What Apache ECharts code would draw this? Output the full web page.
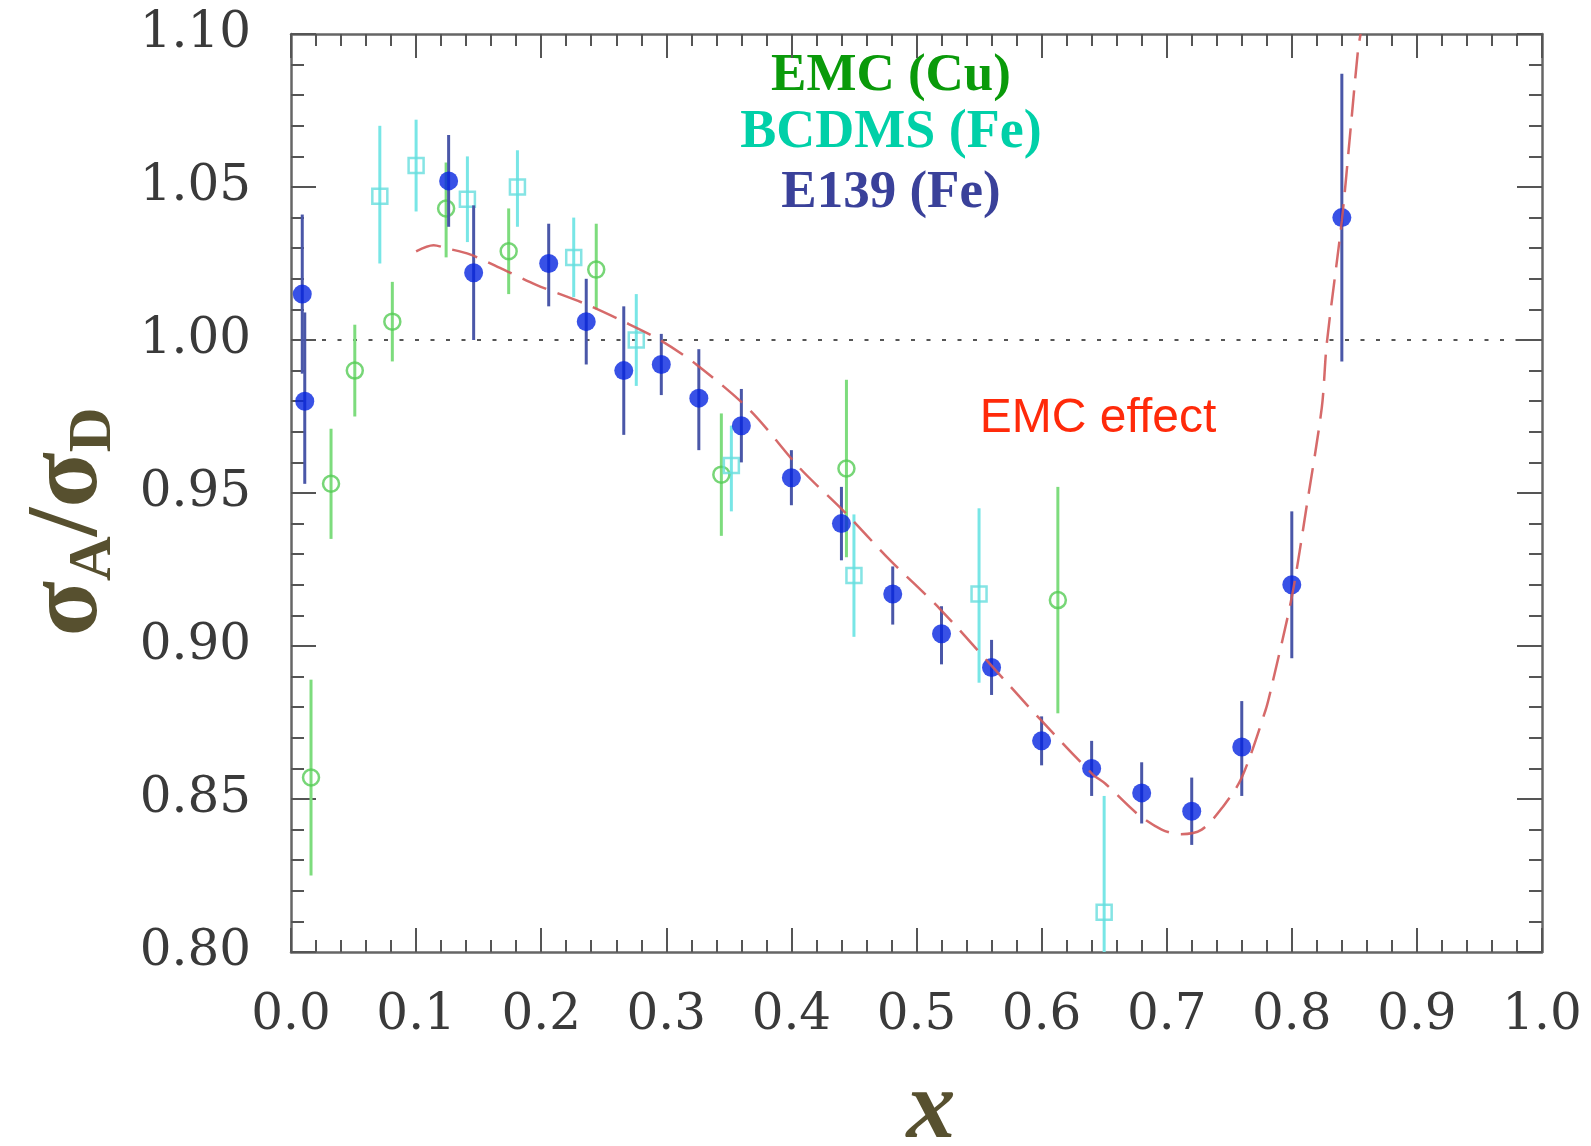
<!DOCTYPE html>
<html>
<head>
<meta charset="utf-8">
<script src="https://cdn.jsdelivr.net/npm/echarts@6/dist/echarts.min.js"></script>
<style>
html,body{margin:0;padding:0;background:#fff;}
#chart{width:1591px;height:1146px;}
</style>
</head>
<body>
<div id="chart"></div>
<script>
// ---- data ----
const e139X  = [0.009, 0.011, 0.126, 0.146, 0.206, 0.236, 0.266, 0.296, 0.326, 0.360, 0.400, 0.440, 0.481, 0.520, 0.560, 0.600, 0.640, 0.680, 0.720, 0.760, 0.800, 0.840];
const e139Y  = [1.015, 0.980, 1.052, 1.022, 1.025, 1.006, 0.990, 0.992, 0.981, 0.972, 0.955, 0.940, 0.917, 0.904, 0.893, 0.869, 0.860, 0.852, 0.846, 0.867, 0.920, 1.040];
const e139Lo = [0.989, 0.953, 1.037, 1.000, 1.011, 0.992, 0.969, 0.982, 0.964, 0.960, 0.946, 0.928, 0.907, 0.894, 0.884, 0.861, 0.851, 0.842, 0.835, 0.851, 0.896, 0.993];
const e139Hi = [1.041, 1.009, 1.067, 1.044, 1.038, 1.020, 1.011, 1.002, 0.997, 0.984, 0.964, 0.952, 0.926, 0.913, 0.902, 0.877, 0.869, 0.862, 0.857, 0.882, 0.944, 1.087];

const emcX  = [0.016, 0.032, 0.051, 0.081, 0.124, 0.174, 0.244, 0.344, 0.444, 0.613];
const emcY  = [0.857, 0.953, 0.990, 1.006, 1.043, 1.029, 1.023, 0.956, 0.958, 0.915];
const emcLo = [0.825, 0.935, 0.975, 0.993, 1.027, 1.015, 1.010, 0.936, 0.929, 0.878];
const emcHi = [0.889, 0.971, 1.005, 1.019, 1.058, 1.043, 1.038, 0.976, 0.987, 0.952];

const bcdmsX  = [0.071, 0.100, 0.141, 0.181, 0.226, 0.276, 0.352, 0.450, 0.550, 0.650];
const bcdmsY  = [1.047, 1.057, 1.046, 1.050, 1.027, 1.000, 0.959, 0.923, 0.917, 0.813];
const bcdmsLo = [1.025, 1.042, 1.032, 1.037, 1.014, 0.985, 0.944, 0.903, 0.888, 0.775];
const bcdmsHi = [1.070, 1.072, 1.060, 1.062, 1.040, 1.015, 0.972, 0.943, 0.945, 0.851];

const curveX = [0.100, 0.114, 0.124, 0.143, 0.170, 0.196, 0.234, 0.266, 0.295, 0.324, 0.367, 0.407, 0.442, 0.479, 0.519, 0.559, 0.599, 0.641, 0.651, 0.677, 0.696, 0.711, 0.728, 0.745, 0.760, 0.779, 0.784, 0.800, 0.812, 0.824, 0.828, 0.840, 0.847, 0.853, 0.855];
const curveY = [1.029, 1.031, 1.030, 1.028, 1.023, 1.018, 1.012, 1.006, 1.000, 0.992, 0.977, 0.958, 0.944, 0.928, 0.912, 0.894, 0.876, 0.858, 0.855, 0.845, 0.840, 0.8385, 0.840, 0.8475, 0.857, 0.879, 0.887, 0.916, 0.946, 0.978, 0.999, 1.039, 1.069, 1.095, 1.100];

const xTicks = [0.0, 0.1, 0.2, 0.3, 0.4, 0.5, 0.6, 0.7, 0.8, 0.9, 1.0];
const yTicks = [0.80, 0.85, 0.90, 0.95, 1.00, 1.05, 1.10];
const refLine = 1.0;

const legendLabels = ['EMC (Cu)', 'BCDMS (Fe)', 'E139 (Fe)'];

// ---- build ----
const zip2 = (a, b) => a.map((v, i) => [v, b[i]]);
const zip3 = (a, b, c) => a.map((v, i) => [v, b[i], c[i]]);

function errBars(name, xs, lo, hi, color, z) {
  return {
    name: name, type: 'custom', clip: true, z: z,
    data: zip3(xs, lo, hi),
    renderItem: function (params, api) {
      const p1 = api.coord([api.value(0), api.value(1)]);
      const p2 = api.coord([api.value(0), api.value(2)]);
      return { type: 'line', shape: { x1: p1[0], y1: p1[1], x2: p2[0], y2: p2[1] },
               style: { stroke: color, lineWidth: 3 } };
    }
  };
}

const axisLineStyle = { color: '#666', width: 2.5 };
const tickStyle = { color: '#555', width: 2 };
function xAx(pos, showLabel) {
  return {
    type: 'value', position: pos, min: 0, max: 1, interval: 0.1,
    axisLine: { show: true, onZero: false, lineStyle: axisLineStyle },
    axisTick: { show: true, inside: true, length: 24, lineStyle: tickStyle },
    minorTick: { show: true, splitNumber: 5, length: 12, lineStyle: tickStyle },
    splitLine: { show: false }, minorSplitLine: { show: false },
    axisLabel: { show: showLabel, margin: 39, fontFamily: 'DejaVu Serif', fontSize: 50, color: '#3a3a3a',
                 formatter: v => v.toFixed(1) }
  };
}
function yAx(pos, showLabel) {
  return {
    type: 'value', position: pos, min: 0.8, max: 1.1, interval: 0.05,
    axisLine: { show: true, onZero: false, lineStyle: axisLineStyle },
    axisTick: { show: true, inside: true, length: 25, lineStyle: tickStyle },
    minorTick: { show: true, splitNumber: 5, length: 13, lineStyle: tickStyle },
    splitLine: { show: false }, minorSplitLine: { show: false },
    axisLabel: { show: showLabel, margin: 40, fontFamily: 'DejaVu Serif', fontSize: 50, color: '#3a3a3a',
                 padding: [16, 0, 0, 0], formatter: v => v.toFixed(2) }
  };
}

const chart = echarts.init(document.getElementById('chart'), null, { renderer: 'canvas' });
chart.setOption({
  backgroundColor: '#fff',
  animation: false,
  grid: { left: 291, top: 34, right: 49, bottom: 194, containLabel: false },
  xAxis: [xAx('bottom', true), xAx('top', false)],
  yAxis: [yAx('left', true), yAx('right', false)],
  series: [
    { name: 'ref', type: 'line', data: [[0, refLine], [1, refLine]], symbol: 'none', z: 1,
      lineStyle: { color: '#555', width: 2.2, type: [4, 11.5] } },
    errBars('emcErr', emcX, emcLo, emcHi, '#7ddc7d', 2),
    errBars('bcdmsErr', bcdmsX, bcdmsLo, bcdmsHi, '#78e6e6', 2),
    { name: legendLabels[0], type: 'scatter', data: zip2(emcX, emcY), symbol: 'circle', symbolSize: 16, z: 3,
      itemStyle: { color: 'rgba(255,255,255,0)', borderColor: '#55cc55', borderWidth: 2.5 } },
    { name: legendLabels[1], type: 'scatter', data: zip2(bcdmsX, bcdmsY), symbol: 'rect', symbolSize: 15, z: 3,
      itemStyle: { color: 'rgba(255,255,255,0)', borderColor: '#66dddd', borderWidth: 2.5 } },
    errBars('e139Err', e139X, e139Lo, e139Hi, '#4a57a8', 4),
    { name: legendLabels[2], type: 'scatter', data: zip2(e139X, e139Y), symbol: 'circle', symbolSize: 19, z: 5,
      itemStyle: { color: '#0626e0' } },
    { name: 'fit', type: 'line', data: zip2(curveX, curveY), symbol: 'none', smooth: 0.3, z: 6, clip: true,
      lineStyle: { color: '#d25a5a', width: 2.5, type: [26, 12], opacity: 0.9 } }
  ],
  graphic: [
    { type: 'text', x: 891, y: 76, style: { text: legendLabels[0], fill: '#0a9a0a', font: 'bold 53px "Liberation Serif"', align: 'center', verticalAlign: 'middle' } },
    { type: 'text', x: 891, y: 133, style: { text: legendLabels[1], fill: '#00d0a8', font: 'bold 54px "Liberation Serif"', align: 'center', verticalAlign: 'middle' } },
    { type: 'text', x: 891, y: 193, style: { text: legendLabels[2], fill: '#3a419a', font: 'bold 53px "Liberation Serif"', align: 'center', verticalAlign: 'middle' } },
    { type: 'text', x: 1098, y: 419, style: { text: 'EMC effect', fill: '#ff2a0a', font: '48px "Liberation Sans"', align: 'center', verticalAlign: 'middle' } },
    { type: 'text', x: 931, y: 1112, style: { text: 'x', fill: '#57502f', font: 'italic bold 98px "Liberation Serif"', align: 'center', verticalAlign: 'middle' } },
    { type: 'text', x: 70, y: 522, rotation: Math.PI / 2,
      style: { text: '{s|σ}{sub|A}{s|/σ}{sub|D}', align: 'center', verticalAlign: 'middle',
        rich: {
          s: { fontFamily: 'Liberation Serif', fontWeight: 'bold', fontSize: 102, fill: '#57502f', lineHeight: 110, verticalAlign: 'middle' },
          sub: { fontFamily: 'Liberation Serif', fontWeight: 'bold', fontSize: 62, fill: '#57502f', lineHeight: 110, verticalAlign: 'bottom', padding: [44, 0, 0, 0] }
        } } }
  ]
});
</script>
</body>
</html>
